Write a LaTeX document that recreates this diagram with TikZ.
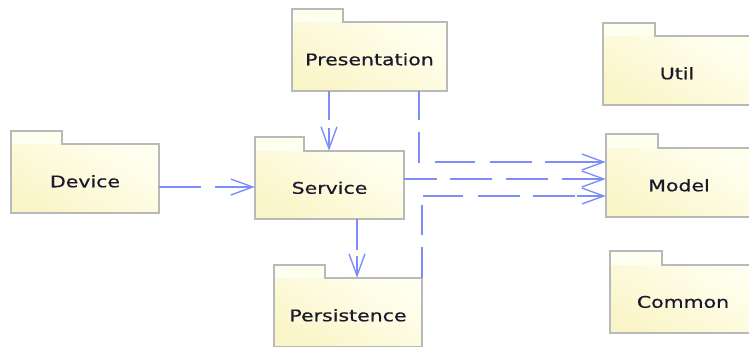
\documentclass[tikz,border=0pt]{standalone}
\usepackage{fontspec}
\setmainfont{DejaVu Sans}[FakeStretch=1.28,FakeBold=0.6]
\usetikzlibrary{arrows.meta}
\definecolor{pkgborder}{RGB}{185,185,185}
\definecolor{pkgtop}{RGB}{255,255,240}
\definecolor{pkgbot}{RGB}{250,245,200}
\definecolor{conn}{RGB}{125,142,250}
\definecolor{pkgtxt}{RGB}{25,25,45}
\tikzset{
  pkg/.style={shade, top color=pkgtop, bottom color=pkgbot, shading angle=-30,
    inner sep=0pt, text=pkgtxt, font=\fontsize{16}{19}\selectfont,
    text height=17.5pt, text depth=0pt},
  pkgline/.style={draw=pkgborder, line width=1.6pt, line join=miter},
  tabfill/.style={fill=pkgtop},
  dep/.style={draw=conn, line width=1.6pt,
    -{Straight Barb[length=22pt,width=16pt,line width=1.4pt]}},
}
\newcommand\pkgoutline[3]{% name, tab width, tab height
  \fill[tabfill] (#1.north west) rectangle ++(#2,#3);
  \draw[pkgline] (#1.north west) -- ++(0,#3) -- ++(#2,0) -- ++(0,-#3)
    -- (#1.north east) -- (#1.south east) -- (#1.south west) -- cycle;
}
\begin{document}
\begin{tikzpicture}[x=1pt,y=1pt]
\useasboundingbox (0,0) rectangle (749,-346);
\clip (0,0) rectangle (749,-346);
\fill[white] (0,0) rectangle (749,-346);

\node[pkg, minimum width=155pt, minimum height=69pt] (pres) at (369.5,-56.5) {Presentation};
\pkgoutline{pres}{51}{13}
\node[pkg, minimum width=149pt, minimum height=68pt] (svc) at (329.5,-185) {Service};
\pkgoutline{svc}{49}{14}
\node[pkg, minimum width=148pt, minimum height=69pt] (dev) at (85,-178.5) {Device};
\pkgoutline{dev}{51}{13}
\node[pkg, minimum width=148pt, minimum height=69pt] (pers) at (348,-312.5) {Persistence};
\pkgoutline{pers}{51}{13}
\node[pkg, minimum width=148pt, minimum height=69pt] (util) at (677,-70.5) {Util};
\pkgoutline{util}{52}{13}
\node[pkg, minimum width=146pt, minimum height=69pt] (mod) at (679,-182.5) {Model};
\pkgoutline{mod}{52}{14}
\node[pkg, minimum width=146pt, minimum height=68pt] (com) at (683,-299) {Common};
\pkgoutline{com}{52}{14}

% dependencies
\draw[dep, dash pattern=on 42pt off 14pt on 60pt]
  ([yshift=-8.5pt]dev.east) -- ([yshift=-2pt]svc.west);
\draw[dep, dash pattern=on 29pt off 8pt on 60pt]
  ([xshift=-0.5pt]svc.north |- pres.south) -- ([xshift=-0.5pt]svc.north);
\draw[dep, dash pattern=on 31pt off 6pt on 60pt]
  ([xshift=27.5pt]svc.south) -- ([xshift=27.5pt]svc.south |- pers.north);
\draw[dep, dash pattern=on 29pt off 12pt on 30pt off 16pt on 40pt off 15pt on 42pt off 13pt on 120pt]
  ([xshift=49.5pt]pres.south) |- ([yshift=20.5pt]mod.west);
\draw[dep, dash pattern=on 33pt off 13pt on 42pt off 14pt on 42pt off 14pt on 120pt]
  ([yshift=6pt]svc.east) -- ([yshift=3.5pt]mod.west);
\draw[dep, dash pattern=on 31pt off 12pt on 30pt off 10pt on 40pt off 15pt on 42pt off 13pt on 42pt off 2pt on 120pt]
  (pers.north east) |- ([yshift=-13.5pt]mod.west);
\end{tikzpicture}
\end{document}
